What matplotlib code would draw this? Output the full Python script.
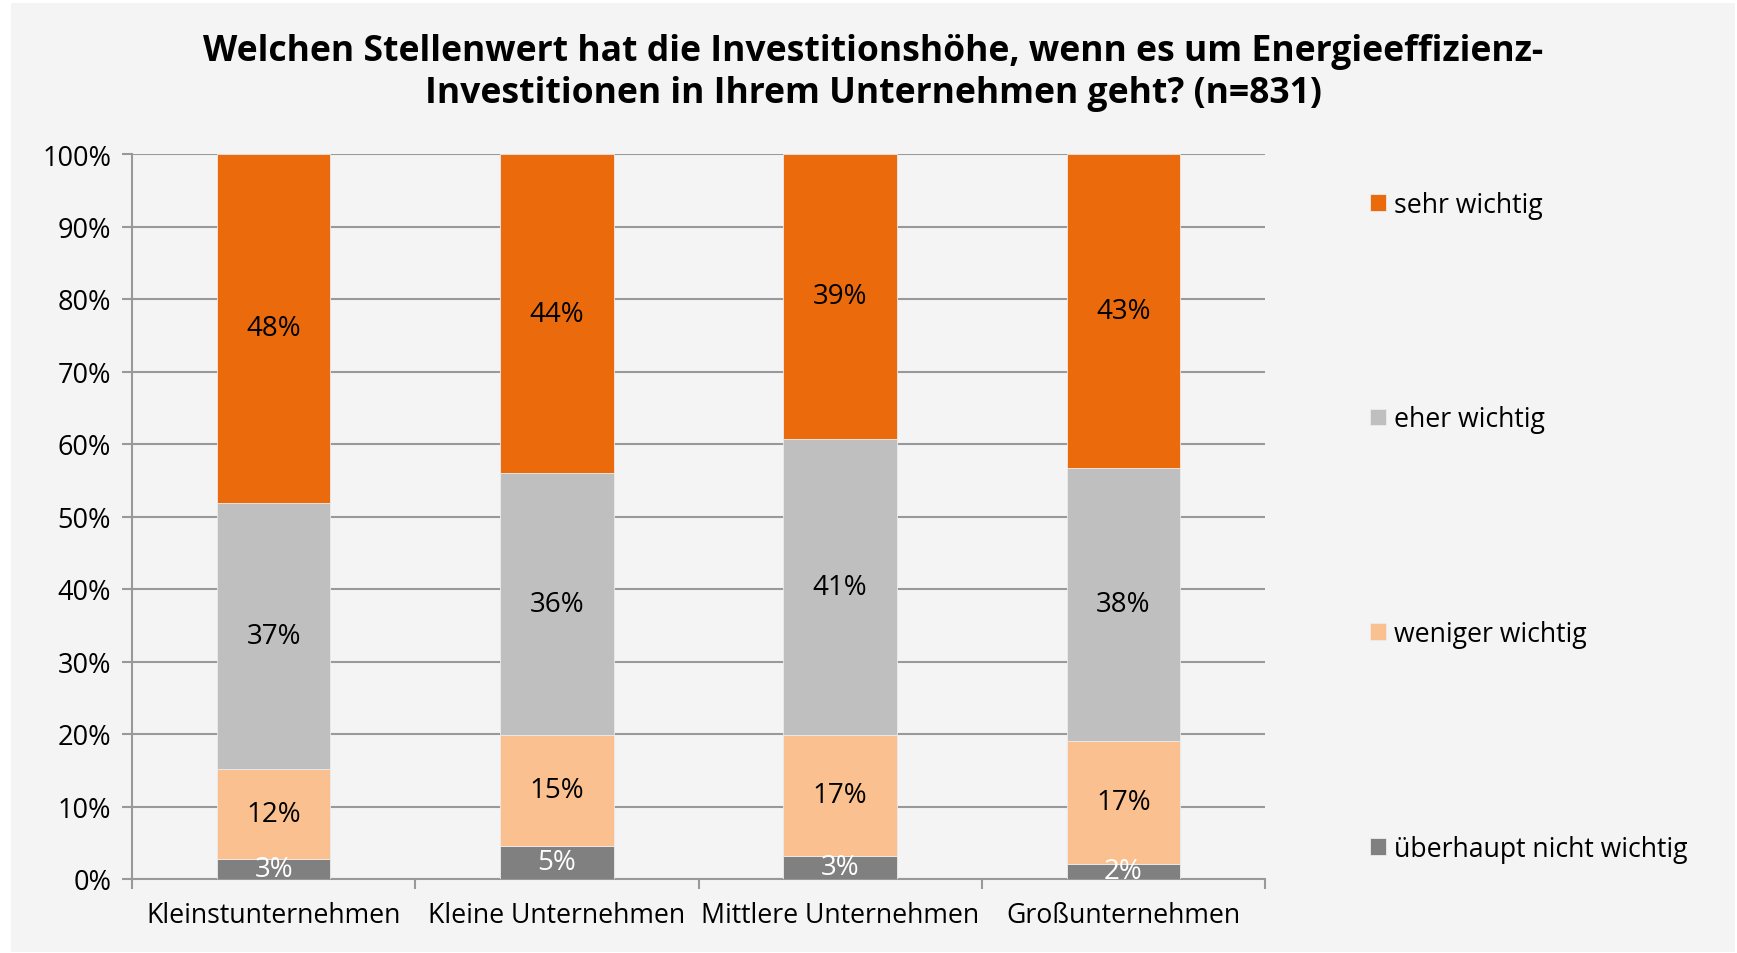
import matplotlib
matplotlib.use("Agg")
import matplotlib.pyplot as plt
from matplotlib.patches import Rectangle
import numpy as np

categories = ["Kleinstunternehmen", "Kleine Unternehmen", "Mittlere Unternehmen", "Großunternehmen"]
series_names = ["überhaupt nicht wichtig", "weniger wichtig", "eher wichtig", "sehr wichtig"]
ueberhaupt = [2.75, 4.6, 3.2, 2.1]
weniger = [12.4, 15.3, 16.7, 17.0]
eher = [36.7, 36.1, 40.8, 37.6]
sehr = [48.2, 44.0, 39.3, 43.3]
labels_ueberhaupt = ["3%", "5%", "3%", "2%"]
labels_weniger = ["12%", "15%", "17%", "17%"]
labels_eher = ["37%", "36%", "41%", "38%"]
labels_sehr = ["48%", "44%", "39%", "43%"]
yticks = [0, 10, 20, 30, 40, 50, 60, 70, 80, 90, 100]
title = "Welchen Stellenwert hat die Investitionshöhe, wenn es um Energieeffizienz-\nInvestitionen in Ihrem Unternehmen geht? (n=831)"

colors = ["#808080", "#FAC090", "#BFBFBF", "#EB6A0C"]
text_colors = ["white", "black", "black", "black"]

plt.rcParams['font.family'] = ['Open Sans', 'DejaVu Sans']

W, H = 1737, 954
fig = plt.figure(figsize=(W / 100, H / 100), dpi=100)
fig.patch.set_facecolor("white")
fig.patches.append(Rectangle((11 / W, 1 - 953 / H), (1735 - 11) / W, (953 - 4) / H,
                             transform=fig.transFigure, facecolor="#F4F4F4",
                             edgecolor="none", zorder=-10))

ax = fig.add_axes([132 / W, 1 - 880 / H, (1265 - 132) / W, (880 - 155) / H])
ax.set_facecolor("none")

x = np.arange(len(categories))
data = [ueberhaupt, weniger, eher, sehr]
labels = [labels_ueberhaupt, labels_weniger, labels_eher, labels_sehr]
bottom = np.zeros(len(categories))
containers = []
for vals, name, col, lab, tc in zip(data, series_names, colors, labels, text_colors):
    bc = ax.bar(x, vals, width=0.4, bottom=bottom, color=col, label=name,
                edgecolor="#ececec", linewidth=0.6, zorder=3)
    containers.append(bc)
    for xi, b, v, t in zip(x, bottom, vals, lab):
        ax.text(xi, b + v / 2, t, ha="center", va="center", color=tc,
                fontsize=20, zorder=4)
    bottom = bottom + np.array(vals)

ax.set_xlim(-0.5, len(categories) - 0.5)
ax.set_ylim(0, 100)
ax.set_yticks(yticks)
ax.set_yticklabels([f"{t}%" for t in yticks], fontsize=19.5)
ax.yaxis.grid(True, color="#999999", linewidth=1.5, zorder=0)
ax.set_axisbelow(True)
ax.set_xticks(x)
ax.set_xticklabels(categories, fontsize=19.2)
ax.set_xticks(np.arange(len(categories) + 1) - 0.5, minor=True)
ax.tick_params(axis="x", which="major", length=0, pad=16)
ax.tick_params(axis="x", which="minor", length=7, width=1.5, color="#999999", direction="out")
ax.tick_params(axis="y", length=7, width=1.5, color="#999999", pad=8)
for s in ["top", "right"]:
    ax.spines[s].set_visible(False)
for s in ["left", "bottom"]:
    ax.spines[s].set_color("#999999")
    ax.spines[s].set_linewidth(1.5)

handles = containers[::-1]
names = series_names[::-1]
leg = fig.legend(handles, names, loc="upper left", bbox_to_anchor=(1357 / W, 1 - 178.5 / H),
                 frameon=False, fontsize=19.2, handlelength=0.58, handleheight=0.58,
                 handletextpad=0.3, labelspacing=7.0, borderpad=0)

fig.text(873 / W, 1 - 73 / H, title, ha="center", va="center", fontsize=25.6,
         fontweight="bold", linespacing=1.25)

fig.savefig("out.png", dpi=100)
